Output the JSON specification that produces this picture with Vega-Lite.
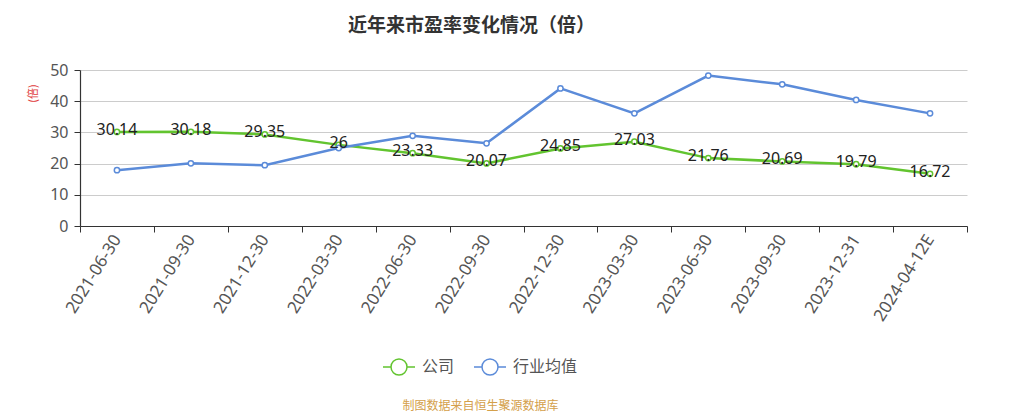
{
  "$schema": "https://vega.github.io/schema/vega-lite/v6.json",
  "autosize": "none",
  "padding": {"left": 80, "top": 70, "right": 52, "bottom": 193},
  "width": 887,
  "height": 156,
  "background": "white",
  "title": {
    "text": "近年来市盈率变化情况（倍）",
    "font": "Noto Sans CJK SC",
    "fontSize": 19,
    "fontWeight": "bold",
    "color": "#333333",
    "anchor": "start",
    "dx": 321,
    "offset": 26
  },
  "config": {
    "view": {"stroke": null},
    "font": "Noto Sans CJK SC"
  },
  "data": {
    "values": [
      {"date": "2021-06-30", "series": "公司", "pe": 30.14},
      {"date": "2021-09-30", "series": "公司", "pe": 30.18},
      {"date": "2021-12-30", "series": "公司", "pe": 29.35},
      {"date": "2022-03-30", "series": "公司", "pe": 26},
      {"date": "2022-06-30", "series": "公司", "pe": 23.33},
      {"date": "2022-09-30", "series": "公司", "pe": 20.07},
      {"date": "2022-12-30", "series": "公司", "pe": 24.85},
      {"date": "2023-03-30", "series": "公司", "pe": 27.03},
      {"date": "2023-06-30", "series": "公司", "pe": 21.76},
      {"date": "2023-09-30", "series": "公司", "pe": 20.69},
      {"date": "2023-12-31", "series": "公司", "pe": 19.79},
      {"date": "2024-04-12E", "series": "公司", "pe": 16.72},
      {"date": "2021-06-30", "series": "行业均值", "pe": 17.9},
      {"date": "2021-09-30", "series": "行业均值", "pe": 20.1},
      {"date": "2021-12-30", "series": "行业均值", "pe": 19.5},
      {"date": "2022-03-30", "series": "行业均值", "pe": 25.0},
      {"date": "2022-06-30", "series": "行业均值", "pe": 28.9},
      {"date": "2022-09-30", "series": "行业均值", "pe": 26.5},
      {"date": "2022-12-30", "series": "行业均值", "pe": 44.1},
      {"date": "2023-03-30", "series": "行业均值", "pe": 36.1},
      {"date": "2023-06-30", "series": "行业均值", "pe": 48.2},
      {"date": "2023-09-30", "series": "行业均值", "pe": 45.4},
      {"date": "2023-12-31", "series": "行业均值", "pe": 40.4},
      {"date": "2024-04-12E", "series": "行业均值", "pe": 36.1}
    ]
  },
  "encoding": {
    "x": {
      "field": "date",
      "type": "ordinal",
      "sort": null,
      "scale": {"type": "band", "paddingInner": 0, "paddingOuter": 0},
      "axis": {
        "title": "制图数据来自恒生聚源数据库",
        "titleColor": "#d4a04a",
        "titleFontSize": 12,
        "titleFontWeight": "normal",
        "titleY": 174,
        "titleX": 400,
        "titleAnchor": "middle",
        "labelAngle": -58,
        "labelAlign": "right",
        "labelBaseline": "middle",
        "labelFontSize": 17,
        "labelColor": "#555555",
        "labelPadding": 4,
        "labelFont": "Noto Sans",
        "tickBand": "extent",
        "tickSize": 6,
        "tickColor": "#333333",
        "domainColor": "#333333",
        "domainWidth": 1.2,
        "grid": false
      }
    },
    "y": {
      "field": "pe",
      "type": "quantitative",
      "scale": {"domain": [0, 50], "nice": false},
      "axis": {
        "title": "(倍)",
        "titleColor": "#e03a3a",
        "titleFontSize": 11,
        "titleFontWeight": "normal",
        "titleX": -42,
        "titleY": 23,
        "titleAnchor": "middle",
        "values": [0, 10, 20, 30, 40, 50],
        "labelFontSize": 16,
        "labelColor": "#555555",
        "labelFont": "Noto Sans",
        "labelPadding": 6,
        "tickSize": 6,
        "tickColor": "#333333",
        "domainColor": "#333333",
        "domainWidth": 1.2,
        "gridColor": "#cccccc",
        "gridWidth": 1
      }
    }
  },
  "layer": [
    {
      "mark": {"type": "line", "strokeWidth": 2.5},
      "encoding": {
        "color": {
          "field": "series",
          "type": "nominal",
          "scale": {"domain": ["公司", "行业均值"], "range": ["#62c42f", "#5b8bd9"]},
          "legend": {
            "orient": "none",
            "direction": "horizontal",
            "legendX": 302,
            "legendY": 280,
            "title": null,
            "symbolType": "M-1,0L-0.5,0M0.5,0L1,0M0.5,0A0.5,0.5 0 1 1 -0.5,0A0.5,0.5 0 1 1 0.5,0",
            "symbolSize": 1024,
            "symbolStrokeWidth": 1.5,
            "symbolFillColor": "white",
            "labelFontSize": 16,
            "labelColor": "#555555",
            "labelOffset": 6,
            "columnPadding": 16
          }
        }
      }
    },
    {
      "mark": {"type": "point", "shape": "circle", "filled": true, "fill": "white", "size": 28, "strokeWidth": 1.5, "opacity": 1},
      "encoding": {
        "stroke": {
          "field": "series",
          "type": "nominal",
          "scale": {"domain": ["公司", "行业均值"], "range": ["#62c42f", "#5b8bd9"]},
          "legend": null
        }
      }
    },
    {
      "transform": [{"filter": "datum.series === '公司'"}],
      "mark": {"type": "text", "fontSize": 16, "color": "#222222", "dy": -2, "font": "Noto Sans"},
      "encoding": {
        "text": {"field": "pe", "type": "quantitative", "format": ".4~"}
      }
    }
  ]
}
